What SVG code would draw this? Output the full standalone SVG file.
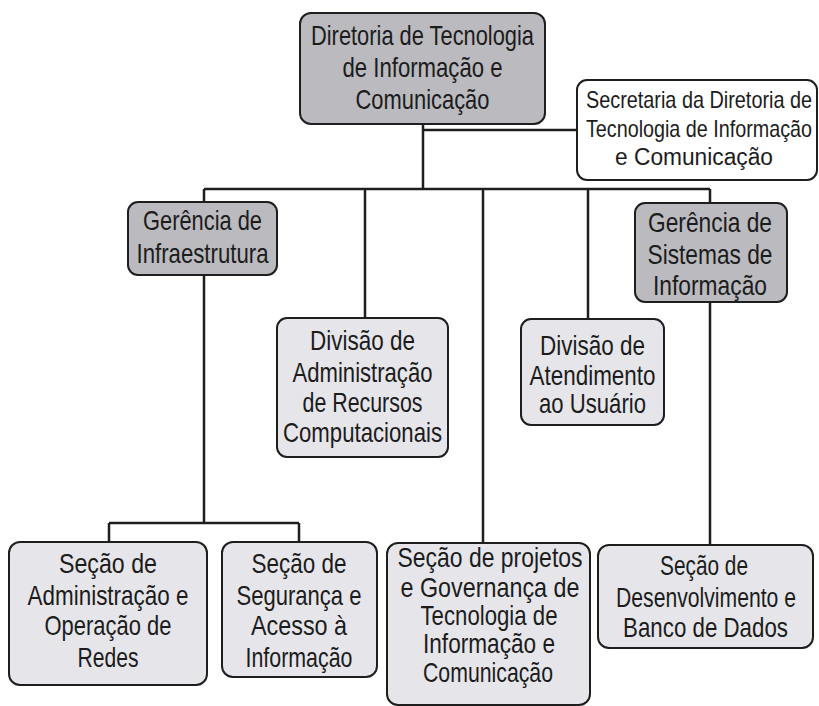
<svg xmlns="http://www.w3.org/2000/svg" width="819" height="706" viewBox="0 0 819 706">
<style>
.box{stroke:#1e1e1e;stroke-width:2}
.dark{fill:#bababf}
.light{fill:#e6e6ea}
.white{fill:#ffffff}
text{font-family:"Liberation Sans",Arial,sans-serif;font-size:28px;fill:#1c1c1c;text-anchor:middle}
.sm{font-size:23px}
.conn{stroke:#1e1e1e;stroke-width:2.5;fill:none}
</style>
<rect width="819" height="706" fill="#ffffff"/>
<g id="connectors">
<path class="conn" d="M423 124V189M423 130H577M204 189H710M204 189V202M365 189V318M483 189V543M588 189V319M710 189V203M204 275V523M109 523H299M109 523V542M299 523V542M710 302V545"/>
</g>
<g id="diretoria">
<rect class="box dark" x="300" y="13" width="245" height="111" rx="11"/>
<text x="422.5" y="45" textLength="223" lengthAdjust="spacingAndGlyphs">Diretoria de Tecnologia</text>
<text x="422.5" y="77" textLength="160" lengthAdjust="spacingAndGlyphs">de Informação e</text>
<text x="422.5" y="109" textLength="134" lengthAdjust="spacingAndGlyphs">Comunicação</text>
</g>
<g id="secretaria">
<rect class="box white" x="577" y="80" width="240" height="100" rx="10"/>
<text class="sm" transform="translate(699,108) scale(0.85,1)" x="0" y="0" textLength="266" lengthAdjust="spacingAndGlyphs">Secretaria da Diretoria de</text>
<text class="sm" transform="translate(699,137) scale(0.85,1)" x="0" y="0" textLength="266" lengthAdjust="spacingAndGlyphs">Tecnologia de Informação</text>
<text class="sm" x="694" y="165" textLength="158" lengthAdjust="spacingAndGlyphs">e Comunicação</text>
</g>
<g id="gerencia-infra">
<rect class="box dark" x="128" y="202" width="149" height="73" rx="10"/>
<text x="202.5" y="230" textLength="119" lengthAdjust="spacingAndGlyphs">Gerência de</text>
<text x="202.5" y="263" textLength="132" lengthAdjust="spacingAndGlyphs">Infraestrutura</text>
</g>
<g id="gerencia-sistemas">
<rect class="box dark" x="635" y="203" width="152" height="99" rx="10"/>
<text x="710" y="232" textLength="124" lengthAdjust="spacingAndGlyphs">Gerência de</text>
<text x="710" y="264" textLength="125" lengthAdjust="spacingAndGlyphs">Sistemas de</text>
<text x="710" y="295" textLength="114" lengthAdjust="spacingAndGlyphs">Informação</text>
</g>
<g id="divisao-adm">
<rect class="box light" x="277" y="318" width="171" height="139" rx="10"/>
<text x="362.5" y="350" textLength="105" lengthAdjust="spacingAndGlyphs">Divisão de</text>
<text x="362.5" y="382" textLength="140" lengthAdjust="spacingAndGlyphs">Administração</text>
<text x="362.5" y="412" textLength="120" lengthAdjust="spacingAndGlyphs">de Recursos</text>
<text x="362.5" y="442" textLength="159" lengthAdjust="spacingAndGlyphs">Computacionais</text>
</g>
<g id="divisao-atendimento">
<rect class="box light" x="521" y="319" width="143" height="106" rx="10"/>
<text x="592.5" y="355" textLength="105" lengthAdjust="spacingAndGlyphs">Divisão de</text>
<text x="592.5" y="385" textLength="126" lengthAdjust="spacingAndGlyphs">Atendimento</text>
<text x="592.5" y="413" textLength="107" lengthAdjust="spacingAndGlyphs">ao Usuário</text>
</g>
<g id="secao-redes">
<rect class="box light" x="9" y="542" width="198" height="143" rx="11"/>
<text x="108" y="573" textLength="98" lengthAdjust="spacingAndGlyphs">Seção de</text>
<text x="108" y="605" textLength="161" lengthAdjust="spacingAndGlyphs">Administração e</text>
<text x="108" y="635" textLength="127" lengthAdjust="spacingAndGlyphs">Operação de</text>
<text x="108" y="667" textLength="61" lengthAdjust="spacingAndGlyphs">Redes</text>
</g>
<g id="secao-seguranca">
<rect class="box light" x="222" y="542" width="155" height="135" rx="11"/>
<text x="299" y="573" textLength="95" lengthAdjust="spacingAndGlyphs">Seção de</text>
<text x="299" y="605" textLength="125" lengthAdjust="spacingAndGlyphs">Segurança e</text>
<text x="299" y="635" textLength="96" lengthAdjust="spacingAndGlyphs">Acesso à</text>
<text x="299" y="667" textLength="107" lengthAdjust="spacingAndGlyphs">Informação</text>
</g>
<g id="secao-projetos">
<rect class="box light" x="387" y="543" width="203" height="162" rx="11"/>
<text x="490" y="567" textLength="185" lengthAdjust="spacingAndGlyphs">Seção de projetos</text>
<text x="490" y="597" textLength="179" lengthAdjust="spacingAndGlyphs">e Governança de</text>
<text x="489" y="625" textLength="137" lengthAdjust="spacingAndGlyphs">Tecnologia de</text>
<text x="489" y="653" textLength="132" lengthAdjust="spacingAndGlyphs">Informação e</text>
<text x="488" y="682" textLength="130" lengthAdjust="spacingAndGlyphs">Comunicação</text>
</g>
<g id="secao-desenvolvimento">
<rect class="box light" x="598" y="545" width="215" height="103" rx="11"/>
<text x="704" y="575" textLength="88" lengthAdjust="spacingAndGlyphs">Seção de</text>
<text transform="translate(706,607) scale(0.8,1)" x="0" y="0" textLength="225" lengthAdjust="spacingAndGlyphs">Desenvolvimento e</text>
<text transform="translate(705.5,637) scale(0.85,1)" x="0" y="0" textLength="194" lengthAdjust="spacingAndGlyphs">Banco de Dados</text>
</g>
</svg>
